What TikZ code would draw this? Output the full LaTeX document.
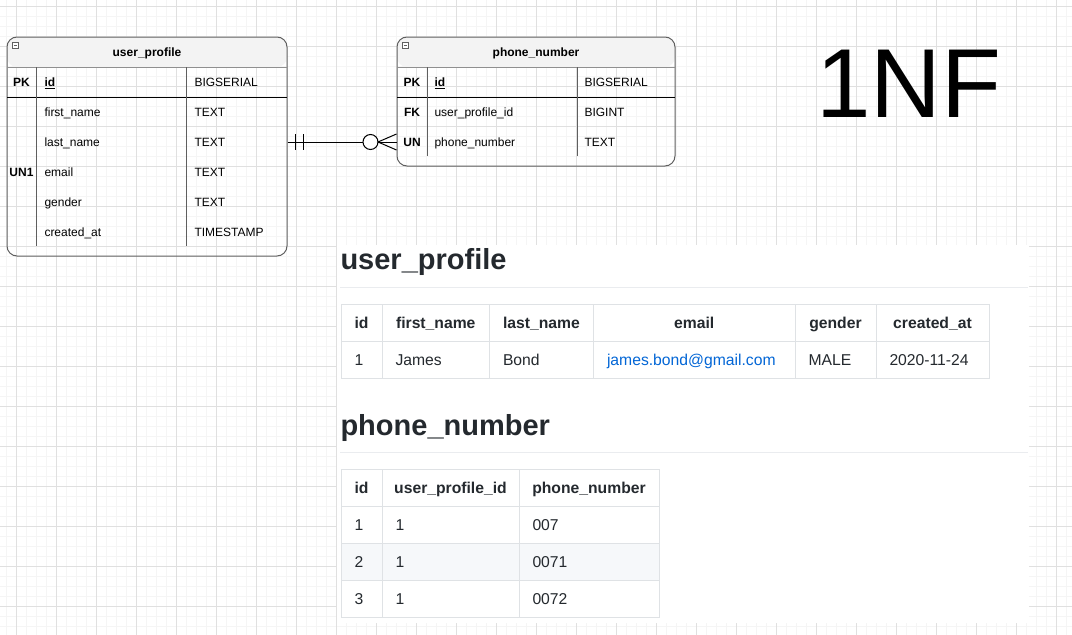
\documentclass[tikz,border=0pt]{standalone}
\usepackage{fontspec}
\setmainfont{Liberation Sans}
\usetikzlibrary{calc}

\definecolor{gridminor}{HTML}{F5F5F5}
\definecolor{gridmajor}{HTML}{E0E0E0}
\definecolor{erborder}{HTML}{5F5F5F}
\definecolor{erhead}{HTML}{F3F3F3}
\definecolor{ghtext}{HTML}{24292E}
\definecolor{ghborder}{HTML}{DFE2E5}
\definecolor{ghstripe}{HTML}{F6F8FA}
\definecolor{ghrule}{HTML}{EAECEF}
\definecolor{ghlink}{HTML}{0366D6}

\tikzset{
  erbox/.style={draw=erborder, rounded corners=10pt, inner sep=0pt,
    path picture={\fill[erhead] (path picture bounding box.north west) rectangle ([yshift=-30pt]path picture bounding box.north east);}},
  ertext/.style={inner sep=0pt, text height=8.6pt, text depth=0pt, font=\fontsize{12}{14}\selectfont},
  erkey/.style={ertext, font=\fontsize{12}{14}\selectfont\bfseries},
  ghcell/.style={inner sep=0pt, text height=11.3pt, text depth=0pt, text=ghtext, font=\fontsize{15.7}{18}\selectfont},
  ghhead/.style={ghcell, font=\fontsize{15.7}{18}\selectfont\bfseries},
  ghtitle/.style={inner sep=0pt, anchor=base west, text=ghtext, font=\fontsize{29}{34}\selectfont\bfseries},
}

\begin{document}
\begin{tikzpicture}[x=1pt, y=-1pt, line width=1pt]
\useasboundingbox (0,0) rectangle (1072,635);
\fill[white] (0,0) rectangle (1072,635);

% grid
\foreach \x in {6,16,...,1066} \draw[gridminor] (\x,0) -- (\x,635);
\foreach \y in {6,16,...,626} \draw[gridminor] (0,\y) -- (1072,\y);
\foreach \x in {16,56,...,1056} \draw[gridmajor] (\x,0) -- (\x,635);
\foreach \y in {6,46,...,606} \draw[gridmajor] (0,\y) -- (1072,\y);

% user_profile entity
\node[erbox, minimum width=280pt, minimum height=219pt] (upbox) at (147,146.5) {};
\draw[erborder!70] (7,67) -- (287,67);
\draw[black] (7,97) -- (287,97);
\draw[erborder] (36,67) -- (36,246) (186,67) -- (186,246);
\draw[erborder, line width=0.7pt, fill=white] (12,42) rectangle (18.5,48.5);
\draw[erborder, line width=0.7pt] (13.5,45.25) -- (17,45.25);
\node[erkey] (uptitle) at (147,52) {user\_profile};
\node[erkey] (uppk) at (21.5,82) {PK};
\node[erkey, anchor=west] (upid) at (44,82) {\underline{id}};
\node[ertext, anchor=west] (upidtype) at (194,82) {BIGSERIAL};
\foreach \name/\type [count=\i] in {first\_name/TEXT, last\_name/TEXT, email/TEXT, gender/TEXT, created\_at/TIMESTAMP} {
  \node[ertext, anchor=west] (uprow\i) at (44,82+30*\i) {\name};
  \node[ertext, anchor=west] (uptype\i) at (194,82+30*\i) {\type};
}
\node[erkey] (upun) at (21.5,172) {UN1};

% phone_number entity
\node[erbox, minimum width=278pt, minimum height=129pt] (pnbox) at (536,101.5) {};
\draw[erborder!70] (397,67) -- (675,67);
\draw[black] (397,97) -- (675,97);
\draw[erborder] (427,67) -- (427,156) (577,67) -- (577,156);
\draw[erborder, line width=0.7pt, fill=white] (402,42) rectangle (408.5,48.5);
\draw[erborder, line width=0.7pt] (403.5,45.25) -- (407,45.25);
\node[erkey] (pntitle) at (536,52) {phone\_number};
\node[erkey] (pnpk) at (412,82) {PK};
\node[erkey, anchor=west] (pnid) at (434,82) {\underline{id}};
\node[ertext, anchor=west] (pnidtype) at (584,82) {BIGSERIAL};
\foreach \key/\name/\type [count=\i] in {FK/user\_profile\_id/BIGINT, UN/phone\_number/TEXT} {
  \node[erkey] (pnkey\i) at (412,82+30*\i) {\key};
  \node[ertext, anchor=west] (pnrow\i) at (434,82+30*\i) {\name};
  \node[ertext, anchor=west] (pntype\i) at (584,82+30*\i) {\type};
}

% relationship: one and only one -- zero or many
\coordinate (upR) at (upbox.east |- uprow2);
\coordinate (pnL) at (pnbox.west |- pnrow2);
\draw (upR) -- ($(pnL)+(-33.5,0)$);
\draw ($(upR)+(8,-8)$) -- ($(upR)+(8,8)$);
\draw ($(upR)+(16,-8)$) -- ($(upR)+(16,8)$);
\draw[fill=white] ($(pnL)+(-26,0)$) circle (7.5);
\draw ($(pnL)+(0,-8)$) -- ($(pnL)+(-18.5,0)$) -- ($(pnL)+(0,8)$);
\draw ($(pnL)+(-18.5,0)$) -- (pnL);

% title
\node[inner sep=0pt, anchor=base, font=\fontsize{98}{104}\selectfont] (nf) at (909,117) {1NF};

% rendered tables
\fill[white] (337,245) rectangle (1029,623);
\node[ghtitle] (uptab) at (340,269) {user\_profile};
\draw[ghrule] (340,287) -- (1028,287);
\draw[ghborder] (341,304) rectangle (989,378) (341,341) -- (989,341);
\foreach \x in {382,489.5,593.5,795,876} \draw[ghborder] (\x,304) -- (\x,378);
\foreach \x/\txt in {361.5/id, 435.75/first\_name, 541.5/last\_name, 694.25/email, 835.5/gender, 932.5/created\_at}
  \node[ghhead] at (\x,323) {\txt};
\foreach \x/\txt in {354/1, 395/James, 502.5/Bond, 808/MALE, 889/2020-11-24}
  \node[ghcell, anchor=west] at (\x,360) {\txt};
\node[ghcell, anchor=west, text=ghlink] (upmail) at (606.5,360) {james.bond@gmail.com};

\node[ghtitle] (pntab) at (340,435) {phone\_number};
\draw[ghrule] (340,452) -- (1028,452);
\fill[ghstripe] (341,543) rectangle (659,580);
\draw[ghborder] (341,469) rectangle (659,617);
\foreach \y in {506,543,580} \draw[ghborder] (341,\y) -- (659,\y);
\foreach \x in {382,519} \draw[ghborder] (\x,469) -- (\x,617);
\foreach \x/\txt in {361.5/id, 450.5/user\_profile\_id, 589/phone\_number}
  \node[ghhead] at (\x,487.5) {\txt};
\foreach \n/\num [count=\i] in {1/007, 2/0071, 3/0072} {
  \node[ghcell, anchor=west] at (354,487.5+37*\i) {\n};
  \node[ghcell, anchor=west] at (395,487.5+37*\i) {1};
  \node[ghcell, anchor=west] at (532,487.5+37*\i) {\num};
}
\end{tikzpicture}
\end{document}
